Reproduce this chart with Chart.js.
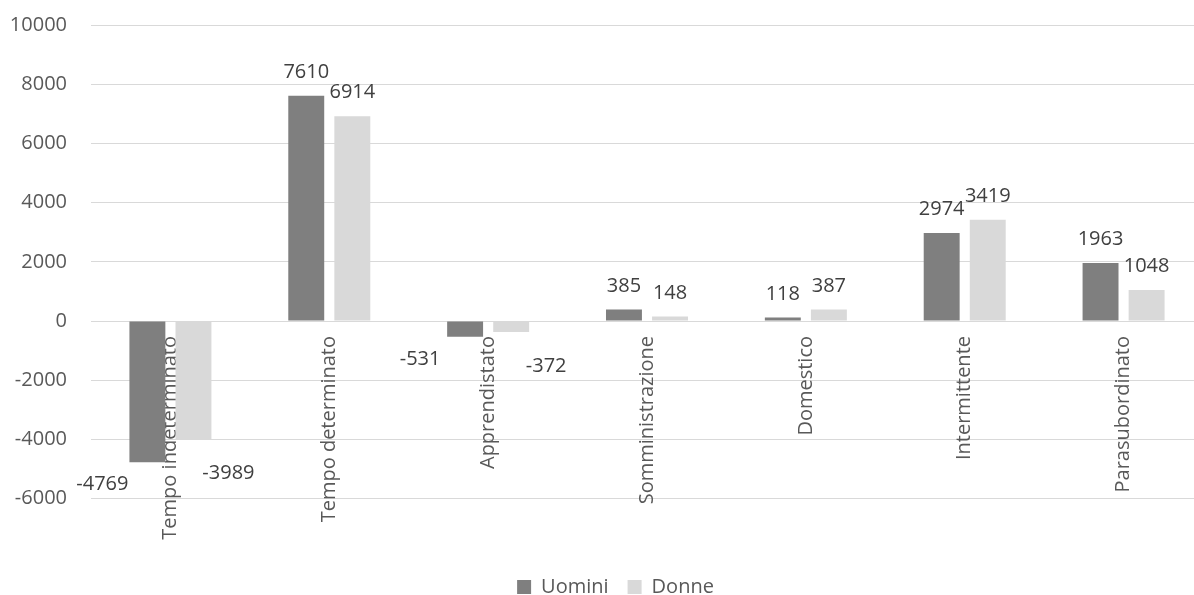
<!DOCTYPE html>
<html>
<head>
<meta charset="utf-8">
<script src="https://cdn.jsdelivr.net/npm/chart.js@4/dist/chart.umd.min.js"></script>
<style>
  body { margin: 0; background: #ffffff; overflow: hidden; }
  #wrap { position: relative; width: 1231px; height: 595px; }
</style>
</head>
<body>
<div id="wrap"><canvas id="chart"></canvas></div>
<script>
//Data
const categories = ["Tempo indeterminato", "Tempo determinato", "Apprendistato", "Somministrazione", "Domestico", "Intermittente", "Parasubordinato"];
const uomini = [-4769, 7610, -531, 385, 118, 2974, 1963];
const donne = [-3989, 6914, -372, 148, 387, 3419, 1048];
const yMin = -6000;
const yMax = 10000;
const yStep = 2000;

const fontFamily = "'Open Sans', sans-serif";

//Draws the value next to each bar, Excel style
const valueLabels = {
    id: "valueLabels",
    afterDatasetsDraw(chart){
        const ctx = chart.ctx;
        ctx.save();
        ctx.font = "20px " + fontFamily;
        ctx.fillStyle = "#404040";
        ctx.textAlign = "center";
        ctx.textBaseline = "alphabetic";
        chart.data.datasets.forEach((ds, i) => {
            const meta = chart.getDatasetMeta(i);
            meta.data.forEach((bar, j) => {
                const v = ds.data[j];
                if(v >= 0){
                    ctx.fillText(v, bar.x, bar.y - 18);
                }else{
                    //negative labels sit below and off to the side
                    const dx = i == 0 ? -45 : 35;
                    const dy = i == 0 ? 28 : 40;
                    ctx.fillText(v, bar.x + dx, bar.y + dy);
                }
            });
        });
        ctx.restore();
    }
};

new Chart(document.getElementById("chart"), {
    type: "bar",
    data: {
        labels: categories,
        datasets: [{
            label: "Uomini",
            data: uomini,
            backgroundColor: "#7f7f7f",
            categoryPercentage: 0.58,
            barPercentage: 0.78
        }, {
            label: "Donne",
            data: donne,
            backgroundColor: "#d9d9d9",
            categoryPercentage: 0.58,
            barPercentage: 0.78
        }]
    },
    options: {
        responsive: true,
        maintainAspectRatio: false,
        animation: false,
        layout: {
            padding: { left: 8, right: 8, top: 15, bottom: -12 }
        },
        scales: {
            x: {
                position: { y: 0 },
                grid: { display: false },
                border: { display: false },
                ticks: {
                    autoSkip: false,
                    maxRotation: 90,
                    minRotation: 90,
                    padding: 7,
                    color: "#595959",
                    font: { family: fontFamily, size: 20 }
                }
            },
            y: {
                min: yMin,
                max: yMax,
                afterFit: scale => { scale.width = 83; },
                grid: { color: "#d9d9d9", lineWidth: 1, drawTicks: true, tickLength: 11, tickColor: "rgba(0,0,0,0)" },
                border: { display: false },
                ticks: {
                    stepSize: yStep,
                    padding: 13,
                    color: "#595959",
                    font: { family: fontFamily, size: 20 },
                    callback: v => String(v)
                }
            },
            //empty strip on the right, the plot runs past the picture edge
            yRight: {
                type: "linear",
                position: "right",
                afterFit: scale => { scale.width = 20; },
                grid: { display: false },
                border: { display: false },
                ticks: { display: false }
            }
        },
        plugins: {
            tooltip: { enabled: false },
            legend: {
                position: "bottom",
                title: { display: true, text: "", padding: { top: 45, bottom: 0 } },
                labels: {
                    boxWidth: 14,
                    boxHeight: 14,
                    padding: 19,
                    color: "#595959",
                    font: { family: fontFamily, size: 20 }
                }
            }
        }
    },
    plugins: [valueLabels]
});
</script>
</body>
</html>
